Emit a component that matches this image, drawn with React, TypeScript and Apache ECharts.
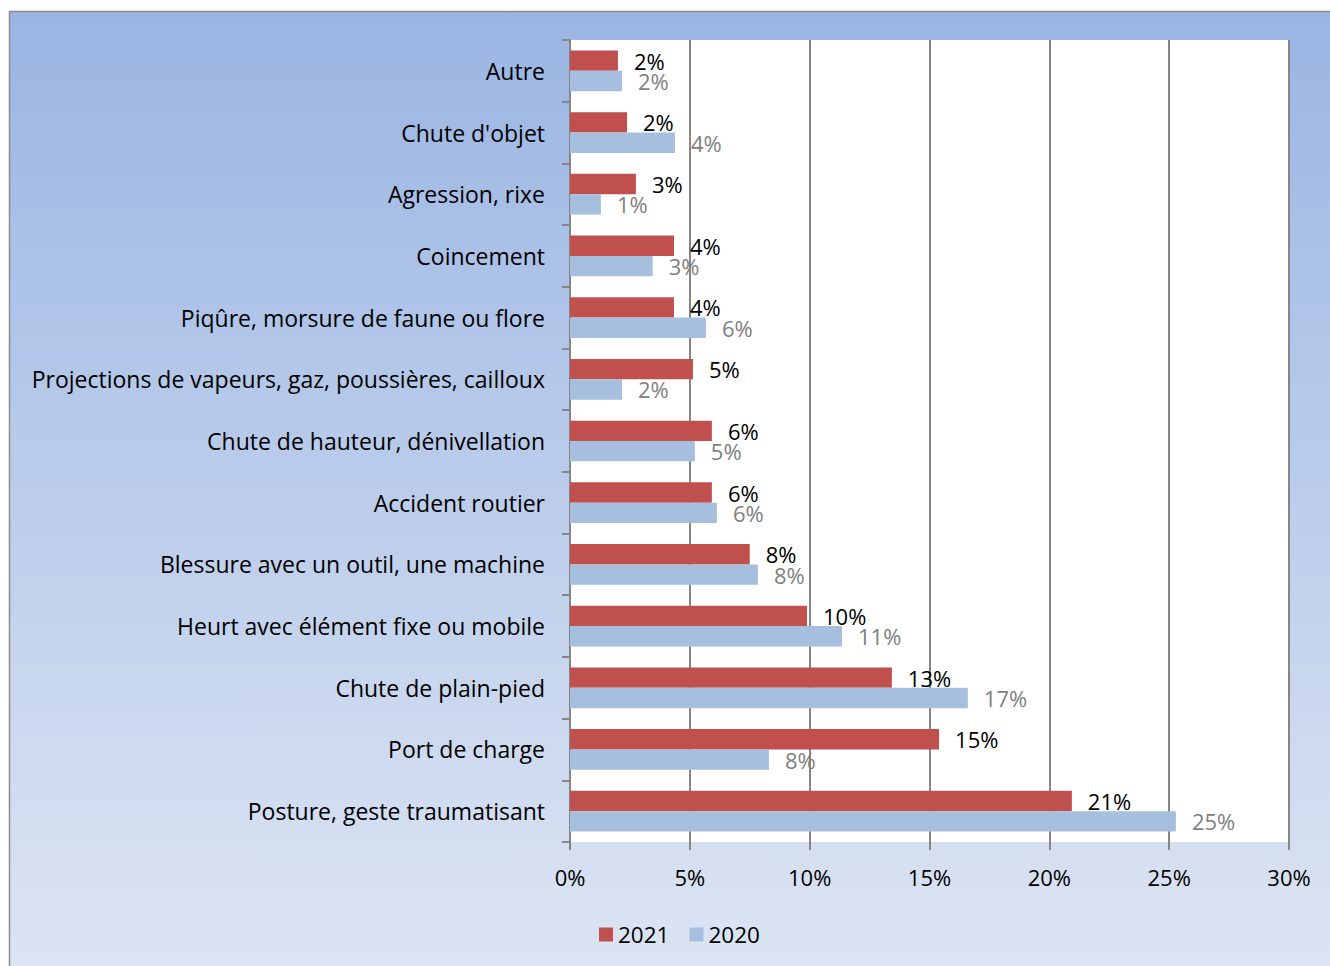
import React, { useEffect, useRef } from "react";
import * as echarts from "echarts";

const categories = [
  "Posture, geste traumatisant",
  "Port de charge",
  "Chute de plain-pied",
  "Heurt avec élément fixe ou mobile",
  "Blessure avec un outil, une machine",
  "Accident routier",
  "Chute de hauteur, dénivellation",
  "Projections de vapeurs, gaz, poussières, cailloux",
  "Piqûre, morsure de faune ou flore",
  "Coincement",
  "Agression, rixe",
  "Chute d'objet",
  "Autre",
];
const values2021 = [20.94, 15.4, 13.43, 9.89, 7.5, 5.92, 5.92, 5.13, 4.34, 4.34, 2.75, 2.38, 2.0];
const values2020 = [25.28, 8.3, 16.6, 11.35, 7.84, 6.13, 5.21, 2.17, 5.67, 3.45, 1.29, 4.38, 2.17];
const xTicks = [0, 5, 10, 15, 20, 25, 30];

const FONT = "'Open Sans', Lato, sans-serif";

export default function App() {
  const ref = useRef<HTMLDivElement>(null);
  useEffect(() => {
    if (!ref.current) return;
    const chart = echarts.init(ref.current, undefined, { renderer: "svg" });
    chart.setOption({
      animation: false,
      textStyle: { fontFamily: FONT },
      graphic: [
        {
          type: "rect",
          z: -10,
          silent: true,
          shape: { x: 9.5, y: 11.5, width: 1330, height: 966 },
          style: {
            fill: new echarts.graphic.LinearGradient(0, 0, 0, 1, [
              { offset: 0, color: "#9AB5E3" },
              { offset: 1, color: "#DDE5F3" },
            ]),
            stroke: "#8C8C8C",
            lineWidth: 1.5,
          },
        },
      ],
      legend: {
        data: ["2021", "2020"],
        left: 594,
        top: 918,
        itemWidth: 14,
        itemHeight: 14,
        itemGap: 20,
        icon: "rect",
        textStyle: { fontSize: 22.5, color: "#000", fontFamily: FONT },
      },
      grid: {
        left: 570,
        right: 41,
        top: 40,
        bottom: 124,
        show: true,
        backgroundColor: "#ffffff",
        borderWidth: 0,
        containLabel: false,
      },
      xAxis: {
        type: "value",
        min: 0,
        max: 30,
        interval: 5,
        axisLine: { show: false },
        axisTick: { show: true, length: 8, lineStyle: { color: "#868686", width: 2 } },
        splitLine: { show: true, lineStyle: { color: "#868686", width: 2 } },
        axisLabel: {
          margin: 24,
          fontSize: 22,
          color: "#000",
          fontFamily: FONT,
          formatter: (v: number) => (xTicks.includes(v) ? v + "%" : ""),
        },
      },
      yAxis: {
        type: "category",
        data: categories,
        axisLine: { show: true, lineStyle: { color: "#868686", width: 2 } },
        axisTick: { show: true, length: 8, lineStyle: { color: "#868686", width: 2 } },
        axisLabel: { margin: 25, fontSize: 23, color: "#000", fontFamily: FONT },
      },
      series: [
        {
          name: "2021",
          type: "bar",
          data: values2021,
          barCategoryGap: "34%",
          barGap: "0%",
          itemStyle: { color: "#C0504D" },
          label: {
            show: true,
            position: "right",
            distance: 16,
            fontSize: 22,
            color: "#000",
            fontFamily: FONT,
            formatter: (p: any) => Math.round(p.value) + "%",
          },
        },
        {
          name: "2020",
          type: "bar",
          data: values2020,
          barCategoryGap: "34%",
          barGap: "0%",
          itemStyle: { color: "#A7BFDE" },
          label: {
            show: true,
            position: "right",
            distance: 16,
            fontSize: 22,
            color: "#7F7F7F",
            fontFamily: FONT,
            formatter: (p: any) => Math.round(p.value) + "%",
          },
        },
      ],
    });
    return () => chart.dispose();
  }, []);
  return (
    <div style={{ position: "fixed", left: 0, top: 0, width: 1330, height: 966, background: "#fff" }}>
      <div ref={ref} style={{ width: 1330, height: 966 }} />
    </div>
  );
}
